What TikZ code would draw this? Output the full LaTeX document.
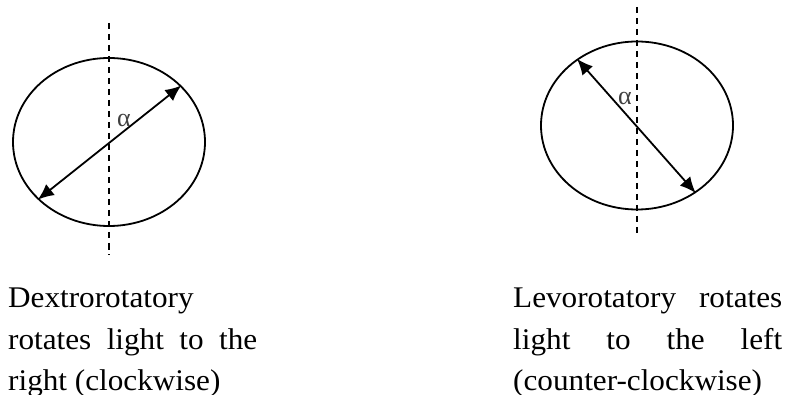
\documentclass[tikz,border=0pt]{standalone}
\usepackage{graphicx}
\usepackage{fontspec}
\setmainfont{Liberation Serif}
\usetikzlibrary{arrows.meta,shapes.geometric}

% text line widened horizontally
\newcommand{\wideline}[1]{\scalebox{1.04}[1]{#1}}

\begin{document}
\begin{tikzpicture}[x=1pt,y=-1pt,
  disc/.style={draw, ellipse, line width=1.8pt, minimum width=192pt, minimum height=168pt, inner sep=0pt},
  axis/.style={line width=1.8pt, dash pattern=on 6.5pt off 4.5pt},
  ray/.style={line width=1.8pt, {Latex[length=16pt,width=14pt]}-{Latex[length=16pt,width=14pt]}},
  anglabel/.style={inner sep=0pt, text=black!75, font=\fontsize{26}{26}\selectfont},
  caption/.style={anchor=base west, inner sep=0pt, font=\fontsize{30}{30}\selectfont}]
\useasboundingbox (0,0) rectangle (789,395);

% dextrorotatory sample
\node[disc] (eL) at (109,142) {};
\coordinate (tL) at (109,23);
\coordinate (bL) at (109,255);
\draw[axis] (tL) -- (bL);
\draw[ray] (eL.-141.2) -- (eL.38.8);
\node[anglabel] (aL) at (124,120) {α};

% levorotatory sample
\node[disc] (eR) at (637,125.5) {};
\coordinate (tR) at (637,7);
\coordinate (bR) at (637,238);
\draw[axis] (tR) -- (bR);
\draw[ray] (eR.132.5) -- (eR.-49);
\node[anglabel] (aR) at (625,98) {α};

% captions
\node[caption] (cL1) at (8,307) {\wideline{Dextrorotatory}};
\node[caption] (cL2) at (8,349) {\wideline{\makebox[239.4pt][s]{rotates light to the}}};
\node[caption] (cL3) at (8,390) {\wideline{right (clockwise)}};

\node[caption] (cR1) at (513,307) {\wideline{\makebox[258.7pt][s]{Levorotatory rotates}}};
\node[caption] (cR2) at (513,349) {\wideline{\makebox[258.7pt][s]{light to the left}}};
\node[caption] (cR3) at (513,390) {\wideline{(counter-clockwise)}};
\end{tikzpicture}
\end{document}
